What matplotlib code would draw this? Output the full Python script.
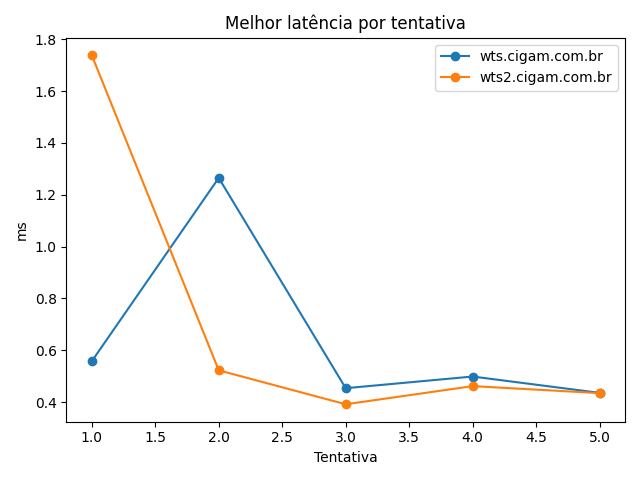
import matplotlib
matplotlib.use("Agg")
import matplotlib.pyplot as plt

tentativas = [1, 2, 3, 4, 5]
wts = [0.558, 1.265, 0.454, 0.499, 0.436]
wts2 = [1.738, 0.523, 0.392, 0.462, 0.435]

fig, ax = plt.subplots(figsize=(6.4, 4.8), dpi=100)
ax.plot(tentativas, wts, marker="o", label="wts.cigam.com.br")
ax.plot(tentativas, wts2, marker="o", label="wts2.cigam.com.br")
ax.set_title("Melhor latência por tentativa")
ax.set_xlabel("Tentativa")
ax.set_ylabel("ms")
ax.legend()
fig.tight_layout()
fig.savefig("out.png")
